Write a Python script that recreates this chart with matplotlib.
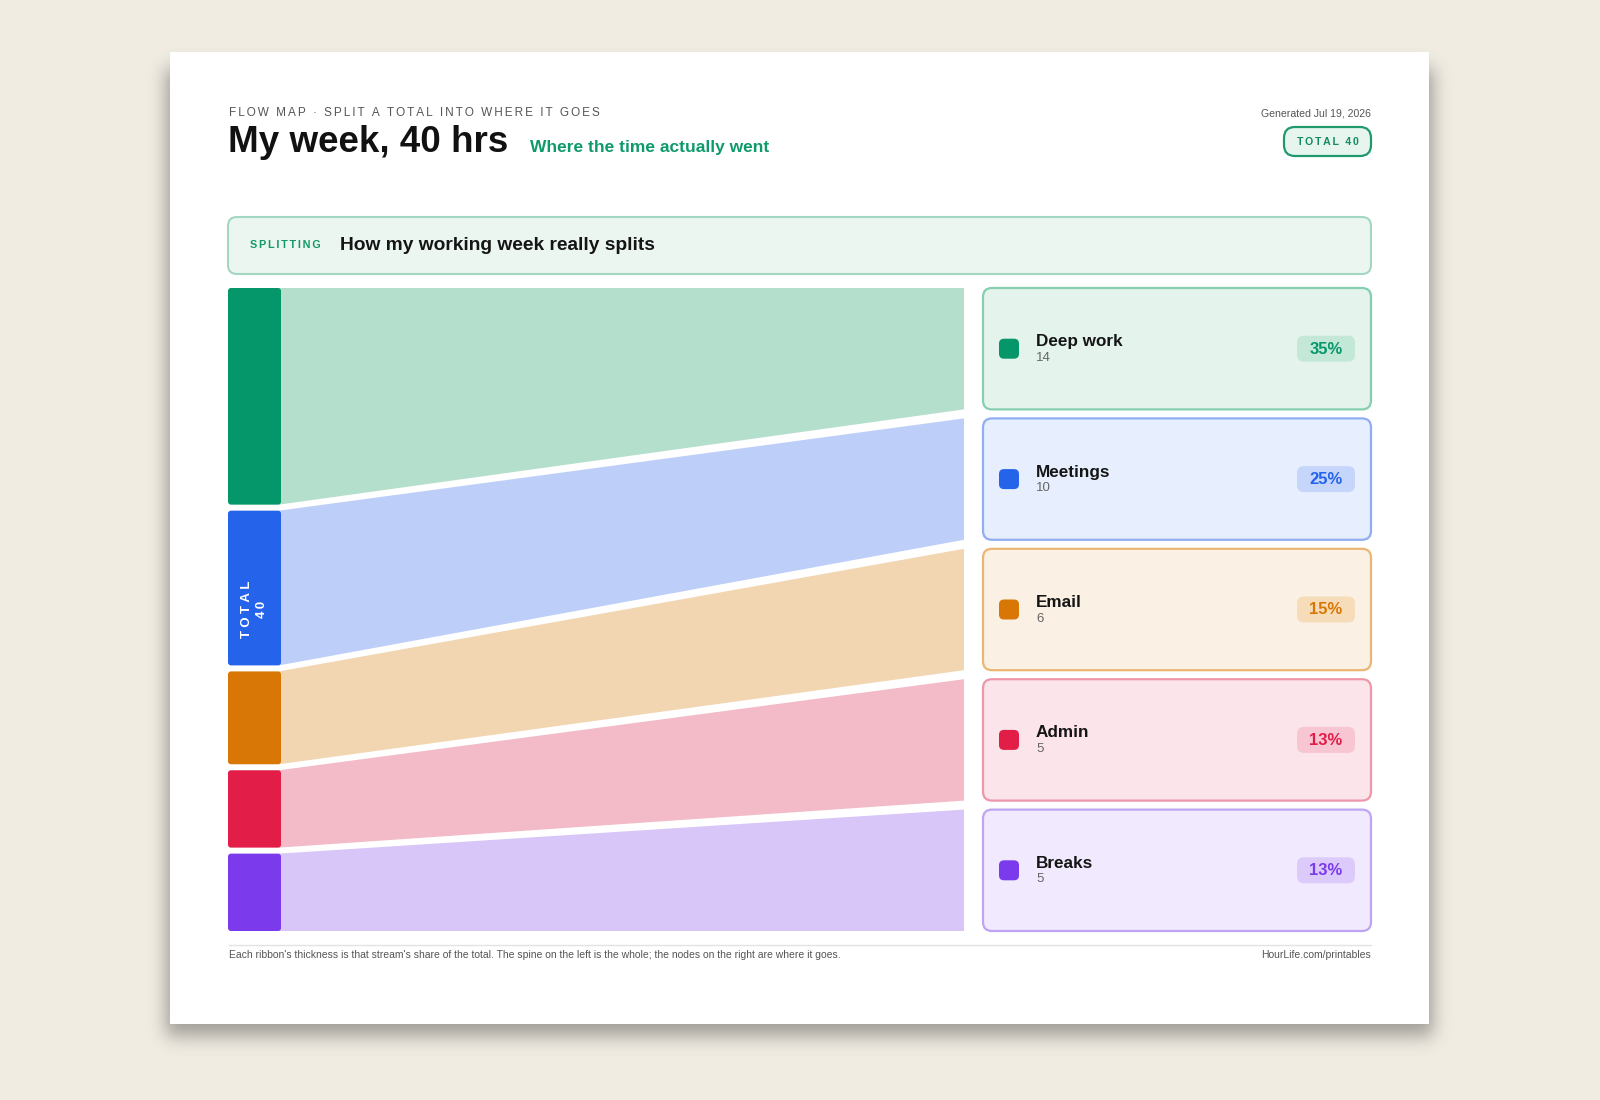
import math
import numpy as np
import matplotlib
matplotlib.use("Agg")
import matplotlib.pyplot as plt
from matplotlib.patches import FancyBboxPatch, Polygon, Rectangle

# ---- data ----
categories = ["Deep work", "Meetings", "Email", "Admin", "Breaks"]
hours = [14, 10, 6, 5, 5]
strong_colors = ["#059669", "#2563eb", "#d97706", "#e11d48", "#7c3aed"]
ribbon_colors = ["#b5dfcd", "#bdcff8", "#f2d5b1", "#f3bac7", "#d8c6f8"]
card_fills = ["#e4f4ed", "#e7eefd", "#faf0e3", "#fbe5ea", "#f1e9fd"]
card_edges = ["#86cfae", "#90aef1", "#eab676", "#ec98aa", "#bfa5f1"]
pill_fills = ["#c3e8d8", "#c6d6fb", "#f6dcb9", "#f8c6d2", "#dccbfa"]

title = "My week, 40 hrs"
subtitle = "Where the time actually went"
kicker = "FLOW MAP · SPLIT A TOTAL INTO WHERE IT GOES"
banner_tag = "SPLITTING"
banner_title = "How my working week really splits"
generated = "Generated Jul 19, 2026"
footer_left = ("Each ribbon's thickness is that stream's share of the total. "
               "The spine on the left is the whole; the nodes on the right are where it goes.")
footer_right = "HourLife.com/printables"

FAM = ["Liberation Sans", "DejaVu Sans"]
plt.rcParams["font.family"] = FAM


def spaced(s, n=1):
    sp = "\u200a" * n
    return sp.join(list(s))


total = sum(hours)

fig = plt.figure(figsize=(16, 11), dpi=100)
fig.patch.set_facecolor("#f1ece2")
ax = fig.add_axes([0, 0, 1, 1])
ax.set_xlim(0, 1600)
ax.set_ylim(1100, 0)
ax.axis("off")

# ---- page card with soft shadow ----
PX0, PY0, PX1, PY1 = 170, 52, 1429, 1024
erf = np.frompyfunc(math.erf, 1, 1)
xs = np.arange(0, 1600) + 0.5
ys = np.arange(0, 1100) + 0.5
sig_x, sig_y = 12.0, 13.0
sx0, sx1, sy0, sy1 = PX0 - 4, PX1 + 4, PY0 + 16, PY1 + 12
fx = 0.5 * (erf((xs - sx0) / sig_x).astype(float) - erf((xs - sx1) / sig_x).astype(float))
fy = 0.5 * (erf((ys - sy0) / sig_y).astype(float) - erf((ys - sy1) / sig_y).astype(float))
alpha = 0.48 * np.outer(fy, fx)
shadow = np.zeros((1100, 1600, 4))
shadow[..., 0:3] = 0.28
shadow[..., 3] = alpha
ax.imshow(shadow, extent=(0, 1600, 1100, 0), interpolation="bilinear",
          zorder=0, aspect="auto")
ax.set_xlim(0, 1600)
ax.set_ylim(1100, 0)
ax.add_patch(Rectangle((PX0, PY0), PX1 - PX0, PY1 - PY0, facecolor="white",
                       lw=0, zorder=1))

L, R = 229, 1371

# ---- header ----
ax.text(L, 113, spaced(kicker, 2), fontsize=8.5, color="#555555",
        va="center", ha="left", zorder=3)
ax.text(L - 1, 143, title, fontsize=26.5, fontweight="bold", color="#111111",
        va="center", ha="left", zorder=3)
ax.text(530, 147.5, subtitle, fontsize=12.5, fontweight="bold", color="#0f9a6a",
        va="center", ha="left", zorder=3)
ax.text(R, 113, generated, fontsize=7.6, color="#555555", va="center",
        ha="right", zorder=3)
ax.add_patch(FancyBboxPatch((1284, 127), 87, 29,
                            boxstyle="round,pad=0,rounding_size=11",
                            facecolor="#e7f5ef", edgecolor="#1f9a6d", lw=1.6,
                            zorder=3))
ax.text(1327.5, 142, spaced(f"TOTAL {total}", 2), fontsize=7.6, fontweight="bold",
        color="#138a5f", va="center", ha="center", zorder=4)

# ---- banner ----
ax.add_patch(FancyBboxPatch((L - 1, 217), R - L + 1, 57,
                            boxstyle="round,pad=0,rounding_size=9",
                            facecolor="#ecf6f1", edgecolor="#a2d7c1", lw=1.5,
                            zorder=3))
ax.text(250, 245.5, spaced(banner_tag, 2), fontsize=7.8, fontweight="bold",
        color="#119966", va="center", ha="left", zorder=4)
ax.text(340, 245.5, banner_title, fontsize=13.8, fontweight="bold",
        color="#151515", va="center", ha="left", zorder=4)

# ---- flow ----
TOP, BOT = 288, 931
SP_X0, SP_X1 = 228, 281
RIB_X1 = 964
CARD_X0, CARD_X1 = 983, 1371
gap_l, gap_r = 6, 9
n = len(hours)
unit = (BOT - TOP - gap_l * (n - 1)) / total
card_h = (BOT - TOP - gap_r * (n - 1)) / n

cum = 0
for i, (cat, h) in enumerate(zip(categories, hours)):
    yl0 = TOP + cum * unit + i * gap_l
    yl1 = yl0 + h * unit
    cum += h
    yr0 = TOP + i * (card_h + gap_r)
    yr1 = yr0 + card_h

    ax.add_patch(Polygon([(SP_X1 - 2, yl0), (RIB_X1, yr0), (RIB_X1, yr1), (SP_X1 - 2, yl1)],
                         closed=True, facecolor=ribbon_colors[i], lw=0, zorder=2))
    ax.add_patch(FancyBboxPatch((SP_X0, yl0), SP_X1 - SP_X0, yl1 - yl0,
                                boxstyle="round,pad=0,rounding_size=3",
                                facecolor=strong_colors[i], lw=0, zorder=3))

    # card
    ax.add_patch(FancyBboxPatch((CARD_X0, yr0), CARD_X1 - CARD_X0, card_h,
                                boxstyle="round,pad=0,rounding_size=9",
                                facecolor=card_fills[i], edgecolor=card_edges[i],
                                lw=1.6, zorder=3))
    cy = (yr0 + yr1) / 2
    ax.add_patch(FancyBboxPatch((999, cy - 10), 20, 20,
                                boxstyle="round,pad=0,rounding_size=5",
                                facecolor=strong_colors[i], lw=0, zorder=4))
    ax.text(1036, cy - 7, cat, fontsize=12.3, fontweight="bold", color="#151515",
            va="center", ha="left", zorder=4)
    ax.text(1036, cy + 9, str(h), fontsize=9.5, color="#666666",
            va="center", ha="left", zorder=4)
    pct = int(h / total * 100 + 0.5)
    ax.add_patch(FancyBboxPatch((1297, cy - 13), 58, 26,
                                boxstyle="round,pad=0,rounding_size=7",
                                facecolor=pill_fills[i], lw=0, zorder=4))
    ax.text(1326, cy + 0.5, f"{pct}%", fontsize=12, fontweight="bold",
            color=strong_colors[i], va="center", ha="center", zorder=5)

# spine label
ax.text((SP_X0 + SP_X1) / 2, (TOP + BOT) / 2, spaced("TOTAL", 3) + "\n" + spaced(str(total), 2),
        rotation=90, fontsize=9.5, fontweight="bold", color="white",
        va="center", ha="center", ma="center", linespacing=1.3, zorder=5)

# ---- footer ----
ax.plot([L, R], [945, 945], color="#e3e3e3", lw=1, zorder=3)
ax.text(L, 955.5, footer_left, fontsize=7.45, color="#555555", va="center",
        ha="left", zorder=3)
ax.text(R, 955.5, footer_right, fontsize=7.45, color="#555555", va="center",
        ha="right", zorder=3)

fig.savefig("out.png", dpi=100, facecolor=fig.get_facecolor())
